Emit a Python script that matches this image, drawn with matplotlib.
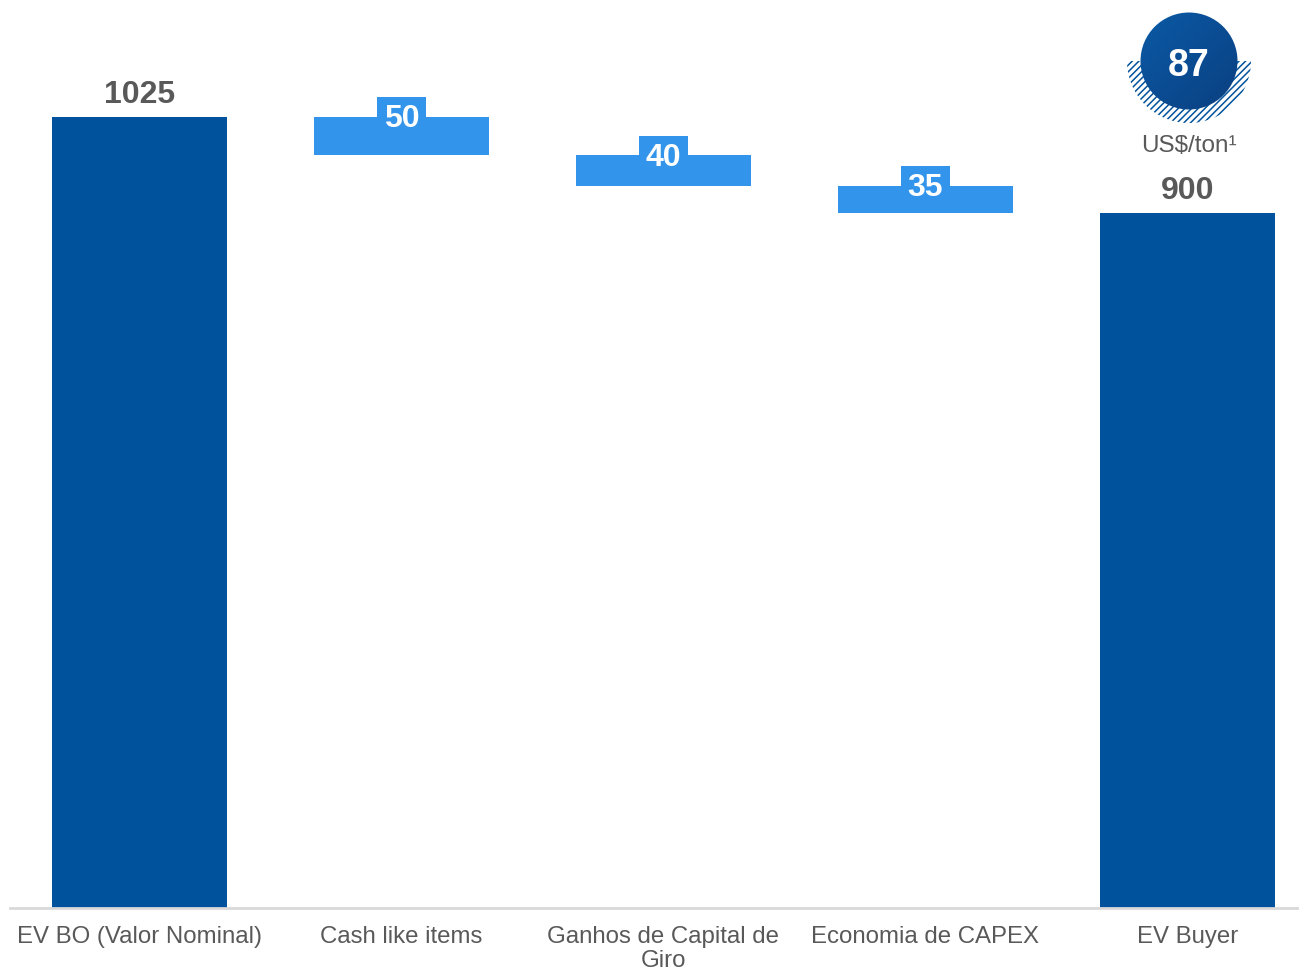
"""
Waterfall: EV BO -> EV Buyer
"""
import numpy as np
import matplotlib.pyplot as plt
from matplotlib.colors import LinearSegmentedColormap
from matplotlib.patches import Circle, Wedge

plt.rcParams['font.family'] = ['Liberation Sans', 'DejaVu Sans']
plt.rcParams['hatch.linewidth'] = 1.1

# data
categories = ['EV BO (Valor Nominal)', 'Cash like items', 'Ganhos de Capital de\nGiro',
              'Economia de CAPEX', 'EV Buyer']
start_value = 1025
steps = [50, 40, 35]
end_value = 900
per_ton = 87
per_ton_unit = 'US$/ton¹'

dark_blue = '#00529c'
light_blue = '#3394eb'
gray_text = '#595959'

fig = plt.figure(figsize=(12.99, 9.73), dpi=100)
ax = fig.add_axes([10 / 1299, 65 / 973, 1289 / 1299, 849 / 973])

x = np.arange(len(categories))
width = 0.668

# totals
ax.bar(x[0], start_value, width, color=dark_blue)
ax.bar(x[-1], end_value, width, color=dark_blue)
for xi, v in [(x[0], start_value), (x[-1], end_value)]:
    ax.annotate(str(v), (xi, v), xytext=(0, 10), textcoords='offset points',
                ha='center', va='baseline', fontsize=23, fontweight='bold', color=gray_text)

# floating steps (decreases)
level = start_value
for i, s in enumerate(steps):
    xi = x[i + 1]
    ax.bar(xi, s, width, bottom=level - s, color=light_blue)
    ax.annotate(str(s), (xi, level), xytext=(0, -1.5), textcoords='offset points',
                ha='center', va='center', fontsize=23, fontweight='bold', color='white',
                bbox=dict(boxstyle='square,pad=0.22', fc=light_blue, ec='none'))
    level -= s

ax.set_xlim(-0.494, 4.426)
ax.set_ylim(0, 1100)
ax.set_xticks(x)
ax.set_xticklabels(categories, fontsize=17.3, color=gray_text, linespacing=1.12)
ax.tick_params(axis='x', length=0, pad=13)
ax.set_yticks([])
for side in ['top', 'right', 'left']:
    ax.spines[side].set_visible(False)
ax.spines['bottom'].set_color('#d9d9d9')
ax.spines['bottom'].set_linewidth(2)

# badge with US$/ton
bx = fig.add_axes([(1189 - 80) / 1299, (973 - 61 - 80) / 973, 160 / 1299, 160 / 973])
bx.set_xlim(-80, 80)
bx.set_ylim(-80, 80)
bx.set_aspect('equal')
bx.axis('off')
bx.add_patch(Wedge((0, 0), 62, 180, 360, facecolor='none', edgecolor=dark_blue,
                   hatch='/////', linewidth=0))
grad = np.linspace(0, 1, 200)
gx, gy = np.meshgrid(grad, grad)
g = (gx + gy) / 2
circle = Circle((0, 0), 48.5, transform=bx.transData)
cmap = LinearSegmentedColormap.from_list('badge', ['#0b5aa6', '#0a3f80'])
im = bx.imshow(g, extent=(-49, 49, -49, 49), origin='upper', cmap=cmap, zorder=3)
im.set_clip_path(circle)
bx.text(0, -1, str(per_ton), ha='center', va='center_baseline', fontsize=27,
        fontweight='bold', color='white', zorder=4)
fig.text(1189 / 1299, (973 - 146) / 973, per_ton_unit, ha='center', va='center',
         fontsize=17.5, color=gray_text)

fig.savefig('out.png', dpi=100)
